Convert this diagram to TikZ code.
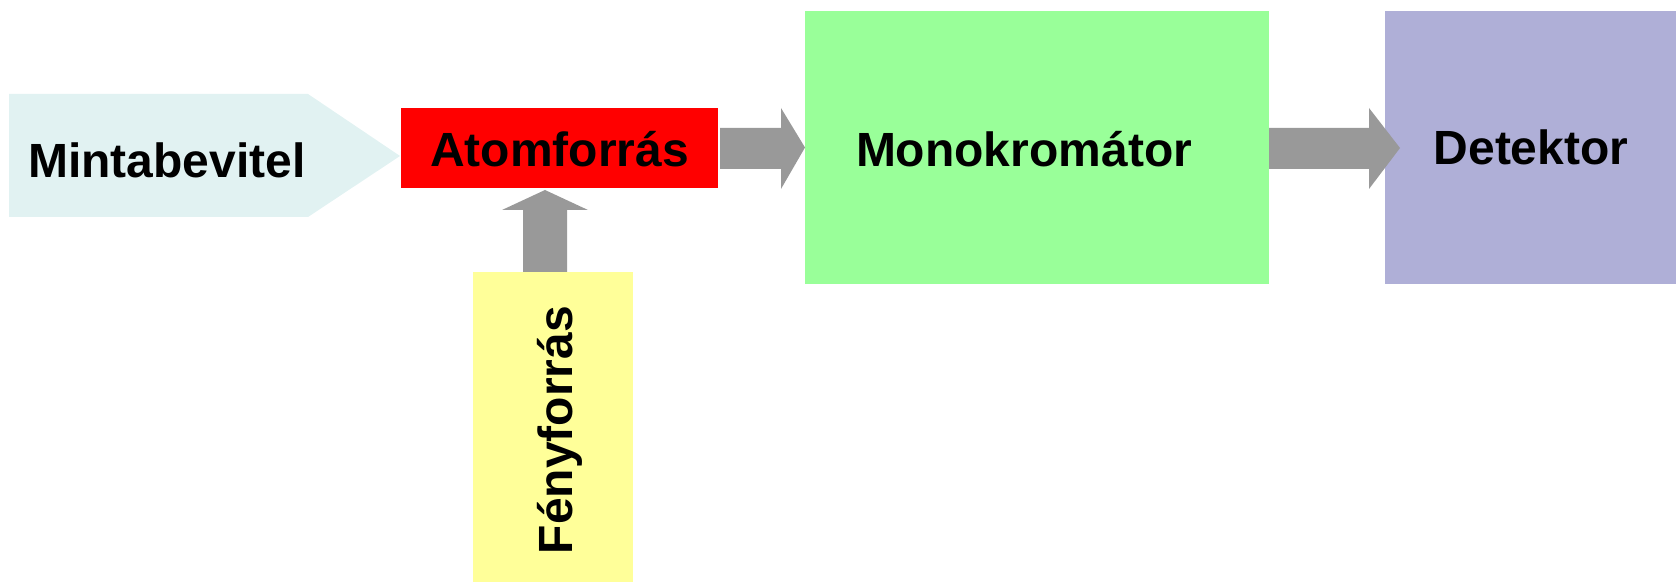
\documentclass[tikz,border=0pt]{standalone}
\usepackage{fontspec}
\setmainfont{Liberation Sans}
\usetikzlibrary{calc}

\definecolor{mintacyan}{RGB}{225,242,242}
\definecolor{atomred}{RGB}{255,0,0}
\definecolor{monogreen}{RGB}{153,255,153}
\definecolor{detpurple}{RGB}{175,175,215}
\definecolor{fenyyellow}{RGB}{255,255,153}
\definecolor{arrowgray}{RGB}{153,153,153}

\begin{document}
\begin{tikzpicture}[x=0.5pt,y=-0.5pt,
    box/.style={rectangle, inner sep=0pt, outer sep=0pt},
    lbl/.style={inner sep=0pt, anchor=base, font=\fontsize{24}{28}\selectfont\bfseries}]
    \useasboundingbox (0,0) rectangle (1676,582);

    % blocks
    \fill[mintacyan] (9,94) -- (308,94) -- (400,156) -- (308,217) -- (9,217) -- cycle;
    \node[box, fill=atomred, minimum width=158.5pt, minimum height=40pt] (atom) at (559.5,148) {};
    \node[box, fill=monogreen, minimum width=232pt, minimum height=136.5pt] (mono) at (1037,147.5) {};
    \node[box, fill=detpurple, minimum width=145.5pt, minimum height=136.5pt] (det) at (1530.5,147.5) {};
    \node[box, fill=fenyyellow, minimum width=80pt, minimum height=155pt] (feny) at (553,427) {};

    % labels
    \node[lbl] (mintatext) at (167,178) {Mintabevitel};
    \node[lbl] (atomtext) at (559.5,167) {Atomforrás};
    \node[lbl] (monotext) at (1024,167) {Monokromátor};
    \node[lbl] (dettext) at (1531,165) {Detektor};
    \node[lbl, rotate=90] (fenytext) at (572,430) {Fényforrás};

    % block arrows
    \fill[arrowgray] (atom.east) ++(2,-20) -- ++(61,0) -- ++(0,-20) -- (mono.west)
      -- ++(-24,41.5) -- ++(0,-20) -- ++(-61,0) -- cycle;
    \fill[arrowgray] (mono.east) ++(0,-19.5) -- ++(100,0) -- ++(0,-20)
      -- ($(det.west)+(15,0.5)$) -- ++(-31,41) -- ++(0,-20) -- ++(-100,0) -- cycle;
    \fill[arrowgray] (feny.north) ++(-30,0) -- ++(0,-62) -- ++(-21,0)
      -- ($(atom.south)+(-14.5,2)$) -- ++(43,20) -- ++(-21,0) -- ++(0,62) -- cycle;
  \end{tikzpicture}
\end{document}
